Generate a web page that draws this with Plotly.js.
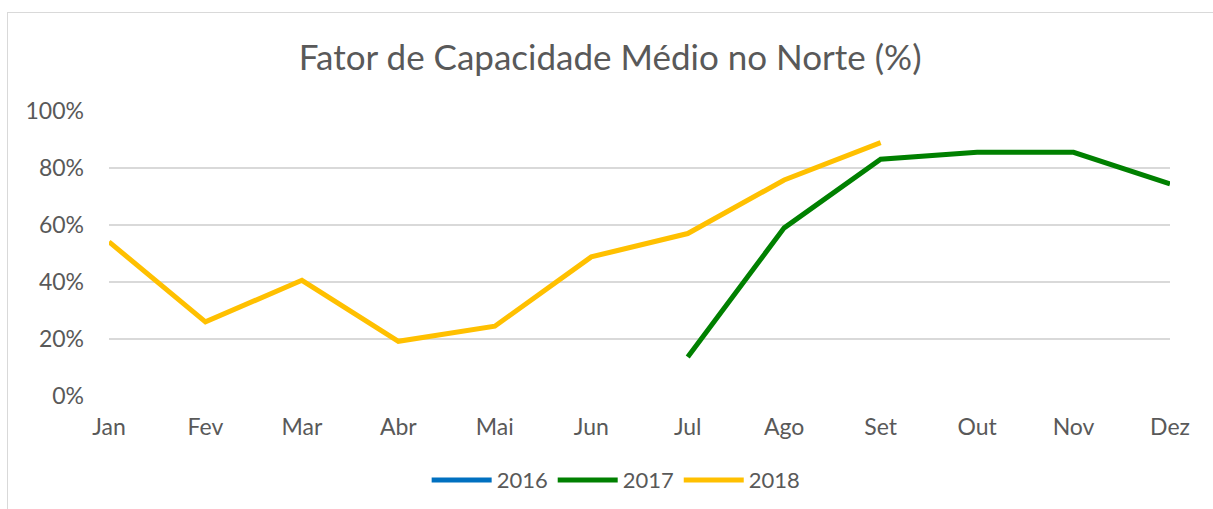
<!DOCTYPE html>
<html>
<head>
<meta charset="utf-8">
<script src="https://cdn.plot.ly/plotly-3.0.1.min.js"></script>
<style>
  html, body { margin: 0; padding: 0; background: #fff; }
  #wrap { position: relative; width: 1213px; height: 509px; overflow: hidden; }
  #chart { position: absolute; left: 0; top: 0; width: 1213px; height: 509px; }
  #frame { position: absolute; left: 7px; top: 12px; width: 1220px; height: 520px;
           border-left: 1.5px solid #d9d9d9; border-top: 1.5px solid #d9d9d9; pointer-events: none; }
</style>
</head>
<body>
<div id="wrap">
  <div id="chart"></div>
  <div id="frame"></div>
</div>
<script>
const months = ["Jan","Fev","Mar","Abr","Mai","Jun","Jul","Ago","Set","Out","Nov","Dez"];
const values2016 = [null,null,null,null,null,null,null,null,null,null,null,null];
const values2017 = [null,null,null,null,null,null,0.137,0.590,0.831,0.855,0.855,0.744];
const values2018 = [0.541,0.260,0.406,0.192,0.245,0.488,0.570,0.758,0.889,null,null,null];
const yTicks = [0,0.2,0.4,0.6,0.8,1.0];

const textColor = "#595959";
const fontFamily = "Lato, 'Open Sans', sans-serif";

const traces = [
  {name: "2016", x: months, y: values2016, type: "scatter", mode: "lines",
   line: {color: "#0070C0", width: 5}},
  {name: "2017", x: months, y: values2017, type: "scatter", mode: "lines",
   line: {color: "#008000", width: 5}},
  {name: "2018", x: months, y: values2018, type: "scatter", mode: "lines",
   line: {color: "#FFC000", width: 5}}
];

const layout = {
  width: 1213, height: 509,
  margin: {l: 109, r: 43, t: 111, b: 113, autoexpand: false},
  paper_bgcolor: "#ffffff", plot_bgcolor: "#ffffff",
  font: {family: fontFamily, color: textColor, size: 23},
  title: {text: "Fator de Capacidade Médio no Norte (%)",
          font: {family: fontFamily, size: 35, color: textColor},
          x: 0.503, xanchor: "center", y: 0.886, yanchor: "middle"},
  xaxis: {type: "category", range: [0, 11], showgrid: false, zeroline: false,
          showline: false, ticks: "", ticklabelstandoff: 15, automargin: false,
          tickfont: {size: 23, color: textColor}, fixedrange: true},
  yaxis: {range: [0, 1], tickvals: yTicks, tickformat: ".0%", showgrid: true,
          gridcolor: "#d9d9d9", gridwidth: 1.5, zeroline: false, showline: false,
          ticks: "", ticklabelstandoff: 24, automargin: false,
          tickfont: {size: 23, color: textColor}, fixedrange: true},
  showlegend: true,
  legend: {orientation: "h", x: 0.478, xanchor: "center", y: -0.295, yanchor: "middle",
           font: {size: 22, color: textColor}, itemwidth: 60, traceorder: "normal"}
};

Plotly.newPlot("chart", traces, layout, {displayModeBar: false, staticPlot: true});
</script>
</body>
</html>
